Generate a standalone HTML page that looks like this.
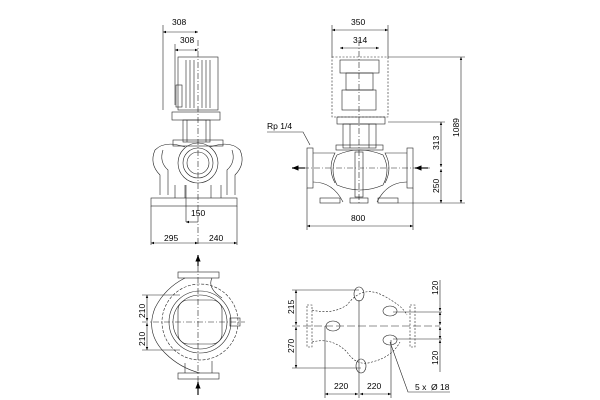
<!DOCTYPE html>
<html><head><style>body{margin:0;background:#fff}svg{display:block}text{font-family:"Liberation Sans",sans-serif;font-size:8.5px;fill:#000}</style></head><body>
<svg width="600" height="400" viewBox="0 0 600 400" xmlns="http://www.w3.org/2000/svg">
<defs><marker id="a" viewBox="0 0 10 10" refX="10" refY="5" markerWidth="8" markerHeight="5" orient="auto-start-reverse"><path d="M0,1L10,5L0,9z" fill="#000"/></marker></defs>
<g fill="none" stroke="#222" stroke-width="0.6">
<!-- TOP LEFT -->
<rect x="178" y="57" width="40" height="53"/>
<line x1="186" y1="60" x2="186" y2="108"/><line x1="190" y1="60" x2="190" y2="108"/><line x1="194" y1="60" x2="194" y2="108"/><line x1="202" y1="60" x2="202" y2="108"/><line x1="206" y1="60" x2="206" y2="108"/><line x1="210" y1="60" x2="210" y2="108"/>
<rect x="176" y="85" width="6" height="22"/>
<rect x="172" y="112" width="48" height="8"/>
<rect x="183" y="120" width="27" height="22"/><line x1="187" y1="120" x2="187" y2="142"/><line x1="206" y1="120" x2="206" y2="142"/>
<rect x="173" y="140" width="50" height="6"/>
<path d="M155,150 q10,-10 30,-3 M240,150 q-10,-10 -30,-3 M155,150 q-6,14 5,25 L160,195 M240,150 q6,14 -5,25 L235,195"/>
<path d="M163,150 q-4,12 5,20 L168,195 M232,150 q4,12 -5,20 L227,195"/>
<circle cx="198" cy="163" r="20"/><circle cx="198" cy="163" r="15"/><circle cx="198" cy="163" r="11"/>
<rect x="151" y="198" width="86" height="8"/>
<line x1="151" y1="206" x2="151" y2="245"/><line x1="237" y1="206" x2="237" y2="245"/>
<path d="M175,185 L175,198 M221,185 L221,198 M185,185 L185,198 M211,185 L211,198"/>
<line x1="186" y1="185" x2="186" y2="222"/>
<line x1="198" y1="40" x2="198" y2="245" stroke-dasharray="6,2,1,2"/>
<line x1="163" y1="25" x2="163" y2="110"/><line x1="175" y1="44" x2="175" y2="105"/>
<line x1="163" y1="32" x2="198" y2="32" marker-start="url(#a)" marker-end="url(#a)"/>
<line x1="175" y1="50" x2="198" y2="50" marker-start="url(#a)" marker-end="url(#a)"/>
<line x1="186" y1="222" x2="198" y2="222" marker-start="url(#a)"/>
<line x1="151" y1="243" x2="198" y2="243" marker-start="url(#a)" marker-end="url(#a)"/>
<line x1="198" y1="243" x2="237" y2="243" marker-end="url(#a)"/>
<!-- TOP RIGHT -->
<rect x="332" y="57" width="56" height="60" stroke-dasharray="2,1.5"/>
<rect x="340" y="60" width="39" height="13"/><rect x="346" y="73" width="27" height="17"/>
<rect x="342" y="90" width="34" height="20"/>
<rect x="337" y="117" width="48" height="7"/>
<rect x="343" y="124" width="33" height="24"/><line x1="350" y1="124" x2="350" y2="148"/><line x1="369" y1="124" x2="369" y2="148"/>
<rect x="336" y="145" width="47" height="5"/>
<rect x="307" y="148" width="6" height="40"/><rect x="407" y="148" width="6" height="40"/>
<path d="M313,153 L335,153 q-8,15 0,30 M407,153 L385,153 q8,15 0,30 M313,182 q20,0 30,20 M407,182 q-20,0 -30,20"/>
<path d="M337,155 q22,-10 46,0 q8,15 0,30 q-22,10 -46,0 q-8,-15 0,-30"/>
<rect x="355" y="152" width="8" height="45"/>
<rect x="320" y="198" width="20" height="5"/><rect x="350" y="198" width="18" height="5"/><rect x="378" y="198" width="20" height="5"/>
<line x1="359" y1="40" x2="359" y2="205" stroke-dasharray="6,2,1,2"/>
<line x1="292" y1="168" x2="430" y2="168" stroke-dasharray="6,2,1,2"/>
<line x1="332" y1="25" x2="332" y2="57"/><line x1="388" y1="25" x2="388" y2="57"/>
<line x1="332" y1="30" x2="388" y2="30" marker-start="url(#a)" marker-end="url(#a)"/>
<line x1="340" y1="48" x2="379" y2="48" marker-start="url(#a)" marker-end="url(#a)"/>
<line x1="307" y1="188" x2="307" y2="230"/><line x1="413" y1="188" x2="413" y2="230"/>
<line x1="307" y1="226" x2="413" y2="226" marker-start="url(#a)" marker-end="url(#a)"/>
<line x1="388" y1="57" x2="465" y2="57"/><line x1="388" y1="122" x2="445" y2="122"/><line x1="398" y1="203" x2="465" y2="203"/>
<line x1="441" y1="122" x2="441" y2="167" marker-start="url(#a)" marker-end="url(#a)"/>
<line x1="441" y1="169" x2="441" y2="203" marker-start="url(#a)" marker-end="url(#a)"/>
<line x1="461" y1="57" x2="461" y2="203" marker-start="url(#a)" marker-end="url(#a)"/>
<path d="M267,132 L303,132 L310,145"/>
<line x1="305" y1="168" x2="292" y2="168" stroke-width="1.3" marker-end="url(#a)"/>
<line x1="428" y1="168" x2="415" y2="168" stroke-width="1.3" marker-end="url(#a)"/>
<!-- BOTTOM LEFT -->
<rect x="178" y="272" width="41" height="6"/><rect x="178" y="373" width="41" height="6"/>
<path d="M185,278 q-20,10 -30,30 q-10,25 10,45 q15,15 35,20 M212,278 q-5,10 10,20 M185,373 l0,-10 M212,373 l0,-12"/>
<circle cx="200" cy="322" r="38" stroke-dasharray="3,1.5"/>
<circle cx="200" cy="322" r="31"/><circle cx="200" cy="322" r="27"/>
<rect x="178" y="300" width="44" height="44" rx="10"/>
<line x1="198" y1="255" x2="198" y2="395" stroke-dasharray="6,2,1,2"/>
<line x1="198" y1="266" x2="198" y2="255" stroke-width="1.3" marker-end="url(#a)"/>
<line x1="198" y1="382" x2="198" y2="395" stroke-width="1.3" marker-start="url(#a)"/>
<line x1="142" y1="322" x2="245" y2="322" stroke-dasharray="6,2,1,2"/>
<rect x="230" y="318" width="10" height="8"/>
<line x1="142" y1="295" x2="180" y2="295"/><line x1="142" y1="350" x2="180" y2="350"/>
<line x1="147" y1="295" x2="147" y2="321" marker-start="url(#a)" marker-end="url(#a)"/>
<line x1="147" y1="323" x2="147" y2="350" marker-start="url(#a)" marker-end="url(#a)"/>
<!-- BOTTOM RIGHT -->
<path d="M312,310 q20,5 35,-5 q15,-20 35,-10 q20,10 25,20 M312,342 q20,-5 35,10 q10,15 25,10 q20,-5 28,-20" stroke-dasharray="2,1.5"/>
<rect x="307" y="305" width="5" height="42" stroke-dasharray="2,1.5"/><rect x="410" y="305" width="5" height="42" stroke-dasharray="2,1.5"/>
<ellipse cx="359" cy="294" rx="5" ry="7"/><ellipse cx="361" cy="366" rx="5" ry="7"/>
<ellipse cx="333" cy="326" rx="7" ry="5"/><ellipse cx="390" cy="311" rx="7" ry="5"/><ellipse cx="390" cy="340" rx="7" ry="5"/>
<line x1="292" y1="326" x2="440" y2="326" stroke-dasharray="8,3"/>
<line x1="292" y1="290" x2="359" y2="290"/><line x1="292" y1="368" x2="361" y2="368"/>
<line x1="296" y1="290" x2="296" y2="325" marker-start="url(#a)" marker-end="url(#a)"/>
<line x1="296" y1="327" x2="296" y2="368" marker-start="url(#a)" marker-end="url(#a)"/>
<line x1="393" y1="312" x2="442" y2="312"/><line x1="393" y1="339" x2="442" y2="339"/>
<line x1="440" y1="280" x2="440" y2="311" marker-end="url(#a)"/>
<line x1="440" y1="312" x2="440" y2="325" marker-start="url(#a)" marker-end="url(#a)"/>
<line x1="440" y1="327" x2="440" y2="339" marker-start="url(#a)" marker-end="url(#a)"/>
<line x1="440" y1="372" x2="440" y2="340" marker-end="url(#a)"/>
<line x1="325" y1="326" x2="325" y2="398"/><line x1="359" y1="300" x2="359" y2="398"/><line x1="391" y1="340" x2="391" y2="398"/>
<line x1="325" y1="394" x2="358" y2="394" marker-start="url(#a)" marker-end="url(#a)"/>
<line x1="360" y1="394" x2="391" y2="394" marker-start="url(#a)" marker-end="url(#a)"/>
<path d="M390,342 L408,392 L450,392"/>
</g>
<text x="172" y="25">308</text><text x="180" y="43">308</text>
<text x="191" y="216">150</text><text x="164" y="241">295</text><text x="209" y="241">240</text>
<text x="351" y="25">350</text><text x="353" y="43">314</text>
<text x="351" y="221">800</text>
<text x="267" y="129">Rp 1/4</text>
<text transform="translate(439,150) rotate(-90)">313</text>
<text transform="translate(439,193) rotate(-90)">250</text>
<text transform="translate(459,137) rotate(-90)">1089</text>
<text transform="translate(145,318) rotate(-90)">210</text>
<text transform="translate(145,346) rotate(-90)">210</text>
<text transform="translate(294,314) rotate(-90)">215</text>
<text transform="translate(294,353) rotate(-90)">270</text>
<text transform="translate(438,295) rotate(-90)">120</text>
<text transform="translate(438,365) rotate(-90)">120</text>
<text x="334" y="389">220</text><text x="367" y="389">220</text>
<text x="415" y="390">5 x &#160;Ø 18</text>
</svg>
</body></html>
